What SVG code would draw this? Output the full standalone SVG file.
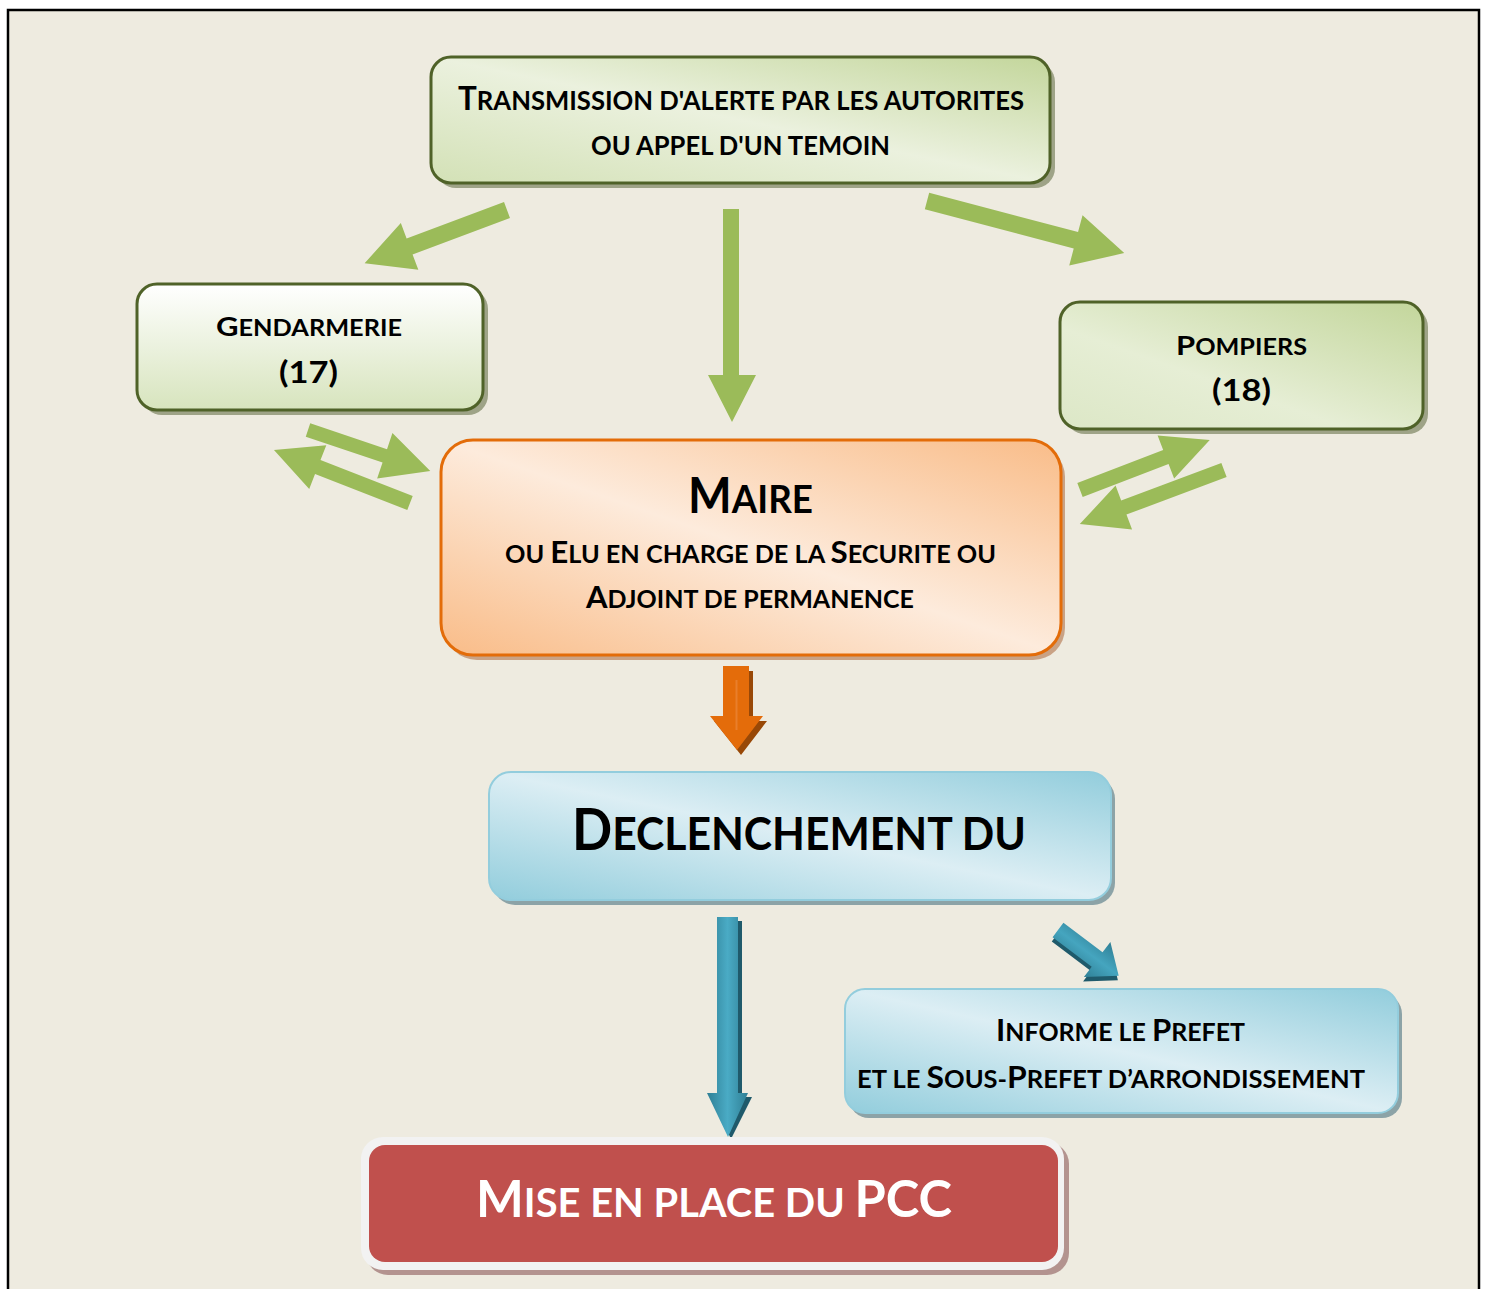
<svg xmlns="http://www.w3.org/2000/svg" width="1485" height="1289" viewBox="0 0 1485 1289">
<defs>
<linearGradient id="gTop" x1="1" y1="0" x2="0" y2="1">
<stop offset="0" stop-color="#C3D69B"/><stop offset="0.5" stop-color="#EBF1DE"/><stop offset="1" stop-color="#D3E1B6"/>
</linearGradient>
<linearGradient id="gGend" x1="0" y1="0" x2="0" y2="1">
<stop offset="0" stop-color="#FFFFFF"/><stop offset="1" stop-color="#D7E4BD"/>
</linearGradient>
<linearGradient id="gPomp" x1="1" y1="0" x2="0" y2="1">
<stop offset="0" stop-color="#C3D69B"/><stop offset="0.6" stop-color="#E6EED5"/><stop offset="1" stop-color="#DCE7C6"/>
</linearGradient>
<linearGradient id="gMaire" x1="1" y1="0" x2="0" y2="1">
<stop offset="0" stop-color="#F9BC88"/><stop offset="0.5" stop-color="#FDEBDC"/><stop offset="1" stop-color="#F9BC88"/>
</linearGradient>
<linearGradient id="gBlue" x1="1" y1="0" x2="0" y2="1">
<stop offset="0" stop-color="#92CDDC"/><stop offset="0.5" stop-color="#DCEEF4"/><stop offset="1" stop-color="#92CDDC"/>
</linearGradient>
<linearGradient id="gBlueArrow" x1="0" y1="0" x2="1" y2="0">
<stop offset="0" stop-color="#2F7F95"/><stop offset="0.5" stop-color="#4AABC5"/><stop offset="1" stop-color="#2F7F95"/>
</linearGradient>
<linearGradient id="gBlueDiag" x1="0" y1="0" x2="0" y2="1">
<stop offset="0" stop-color="#2F7F95"/><stop offset="0.5" stop-color="#45A5BF"/><stop offset="1" stop-color="#2F7F95"/>
</linearGradient>
<style>
.t{font-family:Lato,"Open Sans","Liberation Sans",sans-serif;font-weight:bold;fill:#000;}
.w{fill:#FFFFFF;}
.ga{fill:#9BBB59;}
.gbox{stroke:#4F6228;stroke-width:3;}
.gsh{fill:#9EA387;}
</style>
</defs>
<rect x="0" y="0" width="1485" height="1289" fill="#FFFFFF"/>
<rect x="8" y="10" width="1471" height="1300" fill="#EEEBE0" stroke="#000" stroke-width="2.5"/>

<g id="connectors">
<polygon class="ga" transform="translate(507,210) rotate(159.5)" points="0,-8.5 104,-8.5 104,-25 152,0 104,25 104,8.5 0,8.5"/>
<polygon class="ga" points="723,209 739,209 739,375 756,375 732,422 708,375 723,375"/>
<polygon class="ga" transform="translate(927,201) rotate(14.8)" points="0,-8.5 154,-8.5 154,-26 204,0 154,26 154,8.5 0,8.5"/>
<polygon class="ga" transform="translate(308,430) rotate(18.57)" points="0,-7 81,-7 81,-24 129,0 81,24 81,7 0,7"/>
<polygon class="ga" transform="translate(410,503) rotate(201.3)" points="0,-7.5 99,-7.5 99,-23.5 146,0 99,23.5 99,7.5 0,7.5"/>
<polygon class="ga" transform="translate(1080,490) rotate(-21.04)" points="0,-7.5 92,-7.5 92,-23 139,0 92,23 92,7.5 0,7.5"/>
<polygon class="ga" transform="translate(1224,470) rotate(159.44)" points="0,-7.5 107,-7.5 107,-23.5 154,0 107,23.5 107,7.5 0,7.5"/>
<polygon fill="#984807" points="727,671 753,671 753,721 767,721 741,755 714,721 727,721"/>
<polygon fill="#E46C0A" points="723,666 749,666 749,716 763,716 737,750 710,716 723,716"/>
<rect x="735.5" y="680" width="2" height="50" fill="#F3A06A" opacity="0.35"/>
<polygon fill="#1F5A6B" points="721,921 742,921 742,1097 752,1097 731,1139 711,1097 721,1097"/>
<polygon fill="url(#gBlueArrow)" points="717,917 738,917 738,1093 748,1093 728,1137 707,1093 717,1093"/>
<g transform="translate(1058,930) rotate(37)">
<polygon fill="#1F5A6B" transform="translate(2,4)" points="0,-9 49,-9 49,-22 76,0 49,22 49,9 0,9"/>
<polygon fill="url(#gBlueDiag)" points="0,-9 49,-9 49,-22 76,0 49,22 49,9 0,9"/>
</g>
</g>

<g id="node-top">
<rect class="gsh" x="436" y="62" width="619" height="126" rx="20"/>
<rect class="gbox" x="431" y="57" width="619" height="126" rx="20" fill="url(#gTop)"/>
<text class="t" x="741" y="110" text-anchor="middle" textLength="566" lengthAdjust="spacingAndGlyphs"><tspan font-size="33">T</tspan><tspan font-size="27">RANSMISSION D'ALERTE PAR LES AUTORITES</tspan></text>
<text class="t" x="740.5" y="155" text-anchor="middle" textLength="299" lengthAdjust="spacingAndGlyphs" font-size="27">OU APPEL D'UN TEMOIN</text>
</g>

<g id="node-gendarmerie">
<rect class="gsh" x="142" y="289" width="346" height="126" rx="20"/>
<rect class="gbox" x="137" y="284" width="346" height="126" rx="20" fill="url(#gGend)"/>
<text class="t" x="309" y="336" text-anchor="middle" textLength="186" lengthAdjust="spacingAndGlyphs"><tspan font-size="27">G</tspan><tspan font-size="22">ENDARMERIE</tspan></text>
<text class="t" x="308.5" y="383" text-anchor="middle" textLength="59" lengthAdjust="spacingAndGlyphs" font-size="31">(17)</text>
</g>

<g id="node-pompiers">
<rect class="gsh" x="1065" y="307" width="363" height="127" rx="20"/>
<rect class="gbox" x="1060" y="302" width="363" height="127" rx="20" fill="url(#gPomp)"/>
<text class="t" x="1241.5" y="355" text-anchor="middle" textLength="131" lengthAdjust="spacingAndGlyphs"><tspan font-size="27">P</tspan><tspan font-size="22">OMPIERS</tspan></text>
<text class="t" x="1241.5" y="401" text-anchor="middle" textLength="59" lengthAdjust="spacingAndGlyphs" font-size="31">(18)</text>
</g>

<g id="node-maire">
<rect x="445" y="445" width="620" height="215" rx="32" fill="#C9A285"/>
<rect x="441" y="440" width="620" height="215" rx="32" fill="url(#gMaire)" stroke="#E36C09" stroke-width="3"/>
<text class="t" x="750.5" y="513" text-anchor="middle" textLength="125" lengthAdjust="spacingAndGlyphs"><tspan font-size="49">M</tspan><tspan font-size="39">AIRE</tspan></text>
<text class="t" x="750.5" y="563" text-anchor="middle" textLength="491" lengthAdjust="spacingAndGlyphs"><tspan font-size="25">OU </tspan><tspan font-size="31">E</tspan><tspan font-size="25">LU EN CHARGE DE LA </tspan><tspan font-size="31">S</tspan><tspan font-size="25">ECURITE OU</tspan></text>
<text class="t" x="750" y="608" text-anchor="middle" textLength="328" lengthAdjust="spacingAndGlyphs"><tspan font-size="31">A</tspan><tspan font-size="25">DJOINT DE PERMANENCE</tspan></text>
</g>

<g id="node-declenchement">
<rect x="493" y="777" width="622" height="128" rx="22" fill="#8CA3A7"/>
<rect x="489" y="772" width="622" height="128" rx="22" fill="url(#gBlue)" stroke="#93CDDD" stroke-width="2"/>
<text class="t" x="799" y="850" text-anchor="middle" textLength="454" lengthAdjust="spacingAndGlyphs"><tspan font-size="57">D</tspan><tspan font-size="46">ECLENCHEMENT DU</tspan></text>
</g>

<g id="node-informe">
<rect x="849" y="994" width="553" height="124" rx="20" fill="#8CA3A7"/>
<rect x="845" y="989" width="553" height="124" rx="20" fill="url(#gBlue)" stroke="#93CDDD" stroke-width="2"/>
<text class="t" x="1120.5" y="1041" text-anchor="middle" textLength="249" lengthAdjust="spacingAndGlyphs"><tspan font-size="30">I</tspan><tspan font-size="24">NFORME LE </tspan><tspan font-size="30">P</tspan><tspan font-size="24">REFET</tspan></text>
<text class="t" x="1111" y="1088" text-anchor="middle" textLength="508" lengthAdjust="spacingAndGlyphs"><tspan font-size="24">ET LE </tspan><tspan font-size="30">S</tspan><tspan font-size="24">OUS-</tspan><tspan font-size="30">P</tspan><tspan font-size="24">REFET D’ARRONDISSEMENT</tspan></text>
</g>

<g id="node-pcc">
<rect x="366" y="1142" width="703" height="133" rx="22" fill="#B3938F"/>
<rect x="361" y="1137" width="703" height="133" rx="22" fill="#F2F2F2"/>
<rect x="369" y="1145" width="689" height="117" rx="16" fill="#C0504D"/>
<text class="t w" x="714" y="1217" text-anchor="middle" textLength="476" lengthAdjust="spacingAndGlyphs"><tspan font-size="52">M</tspan><tspan font-size="41">ISE EN PLACE DU </tspan><tspan font-size="52">PCC</tspan></text>
</g>
</svg>
